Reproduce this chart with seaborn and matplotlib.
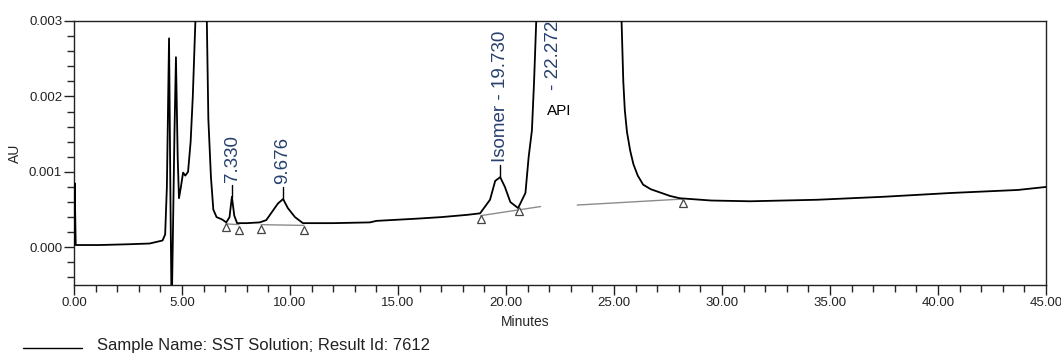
import numpy as np
import pandas as pd
import matplotlib
matplotlib.use('Agg')
import matplotlib.pyplot as plt
import matplotlib.ticker as ticker
import matplotlib.transforms as mtransforms
from matplotlib.lines import Line2D
import seaborn as sns

# ---------- data ----------
time_min = [0.00, 0.03, 0.08, 1.20, 2.50, 3.50, 4.10, 4.22, 4.30, 4.40, 4.47, 4.52, 4.57,
            4.65, 4.72, 4.80, 4.86, 4.95, 5.05, 5.15, 5.28, 5.40, 5.50, 5.62, 5.90, 6.15,
            6.22, 6.34, 6.45, 6.60, 6.85, 7.05, 7.20, 7.31, 7.42, 7.55, 8.00, 8.60, 8.90,
            9.17, 9.44, 9.68, 9.90, 10.23, 10.60, 12.00, 13.70, 14.00, 15.90, 17.00, 18.20,
            18.80, 19.26, 19.50, 19.73, 19.95, 20.20, 20.56, 20.90, 21.05, 21.20, 21.30,
            21.40, 22.27, 25.35, 25.43, 25.50, 25.60, 25.75, 25.90, 26.10, 26.35, 26.70,
            27.10, 27.60, 28.05, 29.50, 31.30, 34.40, 37.50, 40.60, 43.70, 45.00]
absorbance = [0.00003, 0.00085, 0.00003, 0.00003, 0.00004, 0.00005, 0.00009, 0.00017, 0.0008,
              0.00277, 0.0005, -0.0009, 0.0, 0.0015, 0.00252, 0.0012, 0.00065, 0.0008, 0.00099,
              0.00095, 0.0010, 0.0014, 0.0020, 0.0030, 0.012, 0.0030, 0.0017, 0.00093, 0.0005,
              0.0004, 0.00037, 0.00033, 0.0004, 0.00067, 0.00042, 0.00032, 0.00032, 0.00033,
              0.00036, 0.00047, 0.00058, 0.00064, 0.00052, 0.0004, 0.00032, 0.00032, 0.00033,
              0.00035, 0.00038, 0.0004, 0.00043, 0.00045, 0.00063, 0.00088, 0.00093, 0.0008,
              0.0006, 0.00052, 0.00072, 0.0012, 0.00155, 0.0022, 0.0030, 0.03, 0.0030, 0.0022,
              0.00182, 0.00153, 0.00128, 0.0011, 0.00095, 0.00083, 0.00077, 0.00073, 0.00068,
              0.00065, 0.00062, 0.00061, 0.00063, 0.00067, 0.00072, 0.00076, 0.0008]

# labelled peaks: retention time, apex height, label text
peak_rt = [7.33, 9.676, 19.73]
peak_apex = [0.00067, 0.00064, 0.00093]
peak_text = ['7.330', '9.676', 'Isomer - 19.730']

api_rt = 22.272
api_text = '- 22.272'

# integration baselines (start/end) and peak-limit markers
base_start_t = [7.04, 8.66, 18.84, 23.30]
base_start_au = [0.00031, 0.00030, 0.00042, 0.00056]
base_end_t = [7.64, 10.65, 21.60, 28.20]
base_end_au = [0.00030, 0.00029, 0.00054, 0.00064]
marker_t = [7.04, 7.64, 8.66, 10.65, 18.84, 20.60, 28.20]
marker_au = [0.00027, 0.00023, 0.00024, 0.00023, 0.00037, 0.00048, 0.00059]

trace = pd.DataFrame({'Minutes': time_min, 'AU': absorbance})

sns.set_style('ticks')
plt.rcParams['font.family'] = ['Liberation Sans', 'DejaVu Sans']
label_col = '#27406e'

fig = plt.figure(figsize=(10.61, 3.54), dpi=100)
ax = fig.add_axes([74/1061, 1-285/354, 972/1061, 264/354])

# integration baselines (gray)
for t0, a0, t1, a1 in zip(base_start_t, base_start_au, base_end_t, base_end_au):
    ax.plot([t0, t1], [a0, a1], color='#8c8c8c', lw=1.0, zorder=1)

sns.lineplot(data=trace, x='Minutes', y='AU', ax=ax, color='black', lw=1.3,
             estimator=None, sort=False, zorder=3)

ax.plot(marker_t, marker_au, linestyle='none', marker='^', ms=5.5,
        mfc='white', mec='#444444', mew=0.9, zorder=4)

# peak apex ticks and labels
px = 1/75000  # AU per pixel
for rt, apex, txt in zip(peak_rt, peak_apex, peak_text):
    ax.plot([rt, rt], [apex, apex + 12*px], color='black', lw=1.0, zorder=3)
    ax.text(rt, apex + 15*px, txt, rotation=90, ha='center', va='bottom',
            fontsize=13.5, color=label_col)
ax.text(api_rt - 0.05, 0.00209, api_text, rotation=90, ha='center', va='bottom',
        fontsize=13.5, color=label_col, clip_on=True)
ax.text(21.9, 0.00181, 'API', ha='left', va='center', fontsize=11, color='black')

ax.set_xlim(0, 45)
ax.set_ylim(-0.0005, 0.003)
ax.xaxis.set_major_locator(ticker.MultipleLocator(5))
ax.xaxis.set_minor_locator(ticker.MultipleLocator(1))
ax.yaxis.set_major_locator(ticker.FixedLocator([0.0, 0.001, 0.002, 0.003]))
ax.yaxis.set_minor_locator(ticker.MultipleLocator(0.0002))
ax.xaxis.set_major_formatter(ticker.FormatStrFormatter('%.2f'))
ax.yaxis.set_major_formatter(ticker.FormatStrFormatter('%.3f'))
ax.tick_params(which='major', direction='out', length=7, width=1.0, pad=1.5,
               labelsize=9.5, colors='#222222')
ax.tick_params(which='minor', direction='out', length=5, width=1.0)

# keep the last x label inside the figure
last = ax.get_xticklabels()[-1]
last.set_transform(last.get_transform() +
                   mtransforms.ScaledTranslation(-5/100, 0, fig.dpi_scale_trans))

for s in ax.spines.values():
    s.set_visible(True)
    s.set_linewidth(1.0)
    s.set_color('#222222')

ax.set_xlabel('Minutes', fontsize=10)
ax.xaxis.set_label_coords(0.464, -0.114)
ax.set_ylabel('AU', fontsize=10)
ax.yaxis.set_label_coords(-0.054, 0.5)

# sample legend line at the bottom
fig.add_artist(Line2D([23/1061, 82/1061], [1-348/354, 1-348/354], color='black', lw=1.0))
fig.text(97/1061, 1-350/354, 'Sample Name: SST Solution; Result Id: 7612',
         fontsize=12, va='baseline', ha='left', color='#222222')

plt.savefig('out.png', dpi=100)
